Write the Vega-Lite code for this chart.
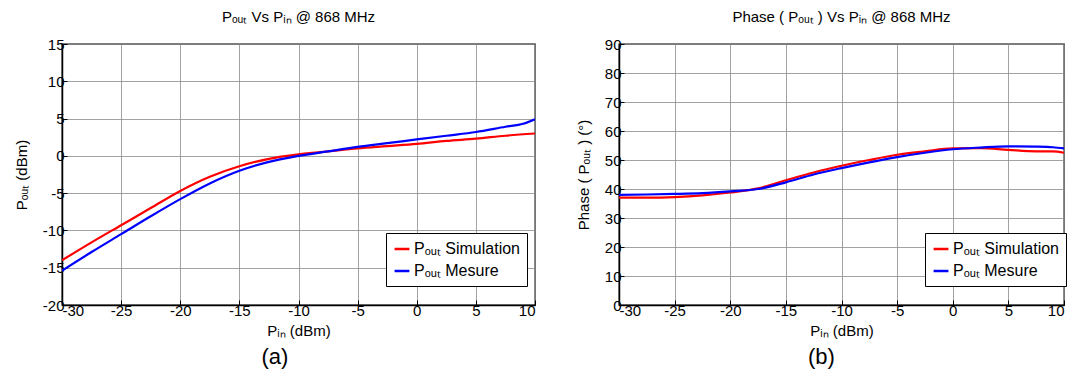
{
  "$schema": "https://vega.github.io/schema/vega-lite/v6.json",
  "background": "white",
  "padding": {"left": 13, "top": 9, "right": 5, "bottom": 5},
  "config": {
    "font": "Liberation Sans",
    "view": {"stroke": "black", "strokeWidth": 1.3},
    "axis": {"labelFont": "Liberation Sans", "labelFontSize": 15, "labelColor": "black", "titleFont": "Liberation Sans", "titleFontSize": 15, "titleFontWeight": "normal", "titleColor": "black", "domainColor": "black", "domainWidth": 1.5, "tickColor": "black", "tickSize": -5, "gridColor": "#8a8a8a", "gridWidth": 0.8, "gridOpacity": 1, "labelPadding": 3, "labelExpr": "replace(datum.label, '−', '-')"},
    "title": {"font": "Liberation Sans", "fontSize": 15, "fontWeight": "normal", "color": "black"},
    "legend": {"labelFont": "Liberation Sans", "labelFontSize": 16, "labelColor": "black", "strokeColor": "black", "fillColor": "white", "padding": 7, "symbolType": "stroke", "symbolStrokeWidth": 2.5, "symbolSize": 220, "rowPadding": 5, "labelOffset": 3}
  },
  "datasets": {
    "power": [
      {"pin": -30, "v": -14.0, "s": "Pₒᵤₜ Simulation"},
      {"pin": -27.5, "v": -11.6, "s": "Pₒᵤₜ Simulation"},
      {"pin": -25, "v": -9.3, "s": "Pₒᵤₜ Simulation"},
      {"pin": -22.5, "v": -7.0, "s": "Pₒᵤₜ Simulation"},
      {"pin": -20, "v": -4.7, "s": "Pₒᵤₜ Simulation"},
      {"pin": -17.5, "v": -2.8, "s": "Pₒᵤₜ Simulation"},
      {"pin": -15, "v": -1.4, "s": "Pₒᵤₜ Simulation"},
      {"pin": -12.5, "v": -0.4, "s": "Pₒᵤₜ Simulation"},
      {"pin": -10, "v": 0.2, "s": "Pₒᵤₜ Simulation"},
      {"pin": -7.5, "v": 0.6, "s": "Pₒᵤₜ Simulation"},
      {"pin": -5, "v": 1.0, "s": "Pₒᵤₜ Simulation"},
      {"pin": -2.5, "v": 1.3, "s": "Pₒᵤₜ Simulation"},
      {"pin": 0, "v": 1.6, "s": "Pₒᵤₜ Simulation"},
      {"pin": 2.5, "v": 2.0, "s": "Pₒᵤₜ Simulation"},
      {"pin": 5, "v": 2.3, "s": "Pₒᵤₜ Simulation"},
      {"pin": 7.5, "v": 2.7, "s": "Pₒᵤₜ Simulation"},
      {"pin": 10, "v": 3.0, "s": "Pₒᵤₜ Simulation"},
      {"pin": -30, "v": -15.4, "s": "Pₒᵤₜ Mesure"},
      {"pin": -27.5, "v": -12.9, "s": "Pₒᵤₜ Mesure"},
      {"pin": -25, "v": -10.5, "s": "Pₒᵤₜ Mesure"},
      {"pin": -22.5, "v": -8.1, "s": "Pₒᵤₜ Mesure"},
      {"pin": -20, "v": -5.8, "s": "Pₒᵤₜ Mesure"},
      {"pin": -17.5, "v": -3.7, "s": "Pₒᵤₜ Mesure"},
      {"pin": -15, "v": -2.0, "s": "Pₒᵤₜ Mesure"},
      {"pin": -12.5, "v": -0.8, "s": "Pₒᵤₜ Mesure"},
      {"pin": -10, "v": 0.0, "s": "Pₒᵤₜ Mesure"},
      {"pin": -7.5, "v": 0.6, "s": "Pₒᵤₜ Mesure"},
      {"pin": -5, "v": 1.2, "s": "Pₒᵤₜ Mesure"},
      {"pin": -2.5, "v": 1.7, "s": "Pₒᵤₜ Mesure"},
      {"pin": 0, "v": 2.2, "s": "Pₒᵤₜ Mesure"},
      {"pin": 2.5, "v": 2.7, "s": "Pₒᵤₜ Mesure"},
      {"pin": 5, "v": 3.2, "s": "Pₒᵤₜ Mesure"},
      {"pin": 7.5, "v": 3.9, "s": "Pₒᵤₜ Mesure"},
      {"pin": 9, "v": 4.3, "s": "Pₒᵤₜ Mesure"},
      {"pin": 10, "v": 4.9, "s": "Pₒᵤₜ Mesure"}
    ],
    "phase": [
      {"pin": -30, "v": 37.0, "s": "Pₒᵤₜ Simulation"},
      {"pin": -27.5, "v": 37.0, "s": "Pₒᵤₜ Simulation"},
      {"pin": -25, "v": 37.2, "s": "Pₒᵤₜ Simulation"},
      {"pin": -22.5, "v": 37.8, "s": "Pₒᵤₜ Simulation"},
      {"pin": -20, "v": 38.8, "s": "Pₒᵤₜ Simulation"},
      {"pin": -17.5, "v": 40.2, "s": "Pₒᵤₜ Simulation"},
      {"pin": -15, "v": 43.0, "s": "Pₒᵤₜ Simulation"},
      {"pin": -12.5, "v": 45.7, "s": "Pₒᵤₜ Simulation"},
      {"pin": -10, "v": 48.0, "s": "Pₒᵤₜ Simulation"},
      {"pin": -7.5, "v": 50.0, "s": "Pₒᵤₜ Simulation"},
      {"pin": -5, "v": 51.8, "s": "Pₒᵤₜ Simulation"},
      {"pin": -2.5, "v": 53.0, "s": "Pₒᵤₜ Simulation"},
      {"pin": 0, "v": 54.0, "s": "Pₒᵤₜ Simulation"},
      {"pin": 2.5, "v": 54.1, "s": "Pₒᵤₜ Simulation"},
      {"pin": 5, "v": 53.5, "s": "Pₒᵤₜ Simulation"},
      {"pin": 7.5, "v": 53.0, "s": "Pₒᵤₜ Simulation"},
      {"pin": 9, "v": 53.0, "s": "Pₒᵤₜ Simulation"},
      {"pin": 10, "v": 52.5, "s": "Pₒᵤₜ Simulation"},
      {"pin": -30, "v": 38.0, "s": "Pₒᵤₜ Mesure"},
      {"pin": -27.5, "v": 38.1, "s": "Pₒᵤₜ Mesure"},
      {"pin": -25, "v": 38.3, "s": "Pₒᵤₜ Mesure"},
      {"pin": -22.5, "v": 38.6, "s": "Pₒᵤₜ Mesure"},
      {"pin": -20, "v": 39.2, "s": "Pₒᵤₜ Mesure"},
      {"pin": -17.5, "v": 40.0, "s": "Pₒᵤₜ Mesure"},
      {"pin": -15, "v": 42.3, "s": "Pₒᵤₜ Mesure"},
      {"pin": -12.5, "v": 45.0, "s": "Pₒᵤₜ Mesure"},
      {"pin": -10, "v": 47.2, "s": "Pₒᵤₜ Mesure"},
      {"pin": -7.5, "v": 49.2, "s": "Pₒᵤₜ Mesure"},
      {"pin": -5, "v": 51.0, "s": "Pₒᵤₜ Mesure"},
      {"pin": -2.5, "v": 52.5, "s": "Pₒᵤₜ Mesure"},
      {"pin": 0, "v": 53.7, "s": "Pₒᵤₜ Mesure"},
      {"pin": 2.5, "v": 54.3, "s": "Pₒᵤₜ Mesure"},
      {"pin": 5, "v": 54.7, "s": "Pₒᵤₜ Mesure"},
      {"pin": 7.5, "v": 54.6, "s": "Pₒᵤₜ Mesure"},
      {"pin": 9, "v": 54.4, "s": "Pₒᵤₜ Mesure"},
      {"pin": 10, "v": 54.0, "s": "Pₒᵤₜ Mesure"}
    ]
  },
  "hconcat": [
    {
      "title": {"text": "(a)", "orient": "bottom", "anchor": "middle", "fontSize": 22, "offset": 8},
      "resolve": {"legend": {"color": "independent"}, "scale": {"color": "independent"}},
      "vconcat": [
        {
          "title": {"text": "Pₒᵤₜ Vs Pᵢₙ @ 868 MHz", "offset": 12},
          "width": 473,
          "height": 261,
          "data": {"name": "power"},
          "mark": {"type": "line", "strokeWidth": 2.2, "interpolate": "monotone", "clip": true},
          "encoding": {
            "x": {"field": "pin", "type": "quantitative", "scale": {"domain": [-30, 10], "nice": false}, "axis": {"title": "Pᵢₙ (dBm)", "values": [-30, -25, -20, -15, -10, -5, 0, 5, 10], "titlePadding": 5}},
            "y": {"field": "v", "type": "quantitative", "scale": {"domain": [-20, 15], "nice": false, "zero": false}, "axis": {"title": "Pₒᵤₜ (dBm)", "values": [-20, -15, -10, -5, 0, 5, 10, 15], "titlePadding": 13}},
            "color": {"field": "s", "type": "nominal", "scale": {"domain": ["Pₒᵤₜ Simulation", "Pₒᵤₜ Mesure"], "range": ["#ff0000", "#0000ff"]}, "legend": {"title": null, "orient": "none", "legendX": 324, "legendY": 189}}
          }
        }
      ]
    },
    {
      "title": {"text": "(b)", "orient": "bottom", "anchor": "middle", "fontSize": 22, "offset": 8},
      "resolve": {"legend": {"color": "independent"}, "scale": {"color": "independent"}},
      "vconcat": [
        {
          "title": {"text": "Phase ( Pₒᵤₜ ) Vs Pᵢₙ @ 868 MHz", "offset": 12},
          "width": 445,
          "height": 261,
          "data": {"name": "phase"},
          "mark": {"type": "line", "strokeWidth": 2.2, "interpolate": "monotone", "clip": true},
          "encoding": {
            "x": {"field": "pin", "type": "quantitative", "scale": {"domain": [-30, 10], "nice": false}, "axis": {"title": "Pᵢₙ (dBm)", "values": [-30, -25, -20, -15, -10, -5, 0, 5, 10], "titlePadding": 5}},
            "y": {"field": "v", "type": "quantitative", "scale": {"domain": [0, 90], "nice": false}, "axis": {"title": "Phase ( Pₒᵤₜ )  (°)", "values": [0, 10, 20, 30, 40, 50, 60, 70, 80, 90], "titlePadding": 13}},
            "color": {"field": "s", "type": "nominal", "scale": {"domain": ["Pₒᵤₜ Simulation", "Pₒᵤₜ Mesure"], "range": ["#ff0000", "#0000ff"]}, "legend": {"title": null, "orient": "none", "legendX": 306, "legendY": 189}}
          }
        }
      ]
    }
  ],
  "spacing": 38,
  "resolve": {"legend": {"color": "independent"}, "scale": {"color": "independent"}}
}
